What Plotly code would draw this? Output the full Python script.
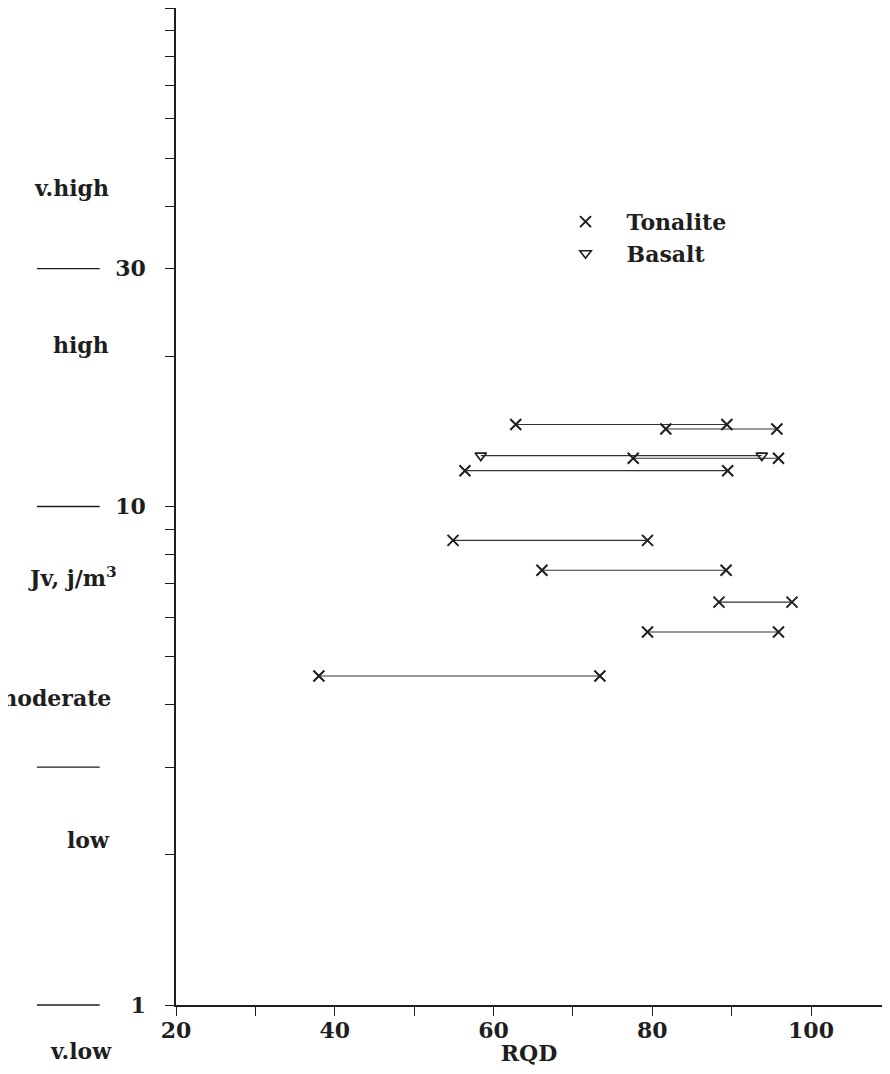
import math
import plotly.graph_objects as go

# ---- data ----
tonalite_rqd_min = [62.8, 81.7, 77.6, 56.4, 54.9, 66.1, 88.4, 79.4, 38.0]
tonalite_rqd_max = [89.4, 95.7, 95.9, 89.5, 79.4, 89.3, 97.6, 95.9, 73.4]
tonalite_jv = [14.6, 14.3, 12.5, 11.8, 8.55, 7.45, 6.43, 5.60, 4.57]

basalt_rqd_min = [58.4]
basalt_rqd_max = [93.8]
basalt_jv = [12.65]

class_bounds = [30, 10, 3, 1]
ytick_vals = [1, 2, 3, 4, 5, 6, 7, 8, 9, 10, 20, 30, 40, 50, 60, 70, 80, 90, 100]
ytick_labels = {1: "1", 10: "10", 30: "30"}
xtick_vals = [20, 30, 40, 50, 60, 70, 80, 90, 100]
xtick_labels = {20: "20", 40: "40", 60: "60", 80: "80", 100: "100"}

FONT = "DejaVu Serif"
INK = "#1e1e1e"
FS = 22

def seg(xmin, xmax, ys):
    xs, yy = [], []
    for a, b, y in zip(xmin, xmax, ys):
        xs += [a, b, None]
        yy += [y, y, None]
    return xs, yy

fig = go.Figure()

tx, ty = seg(tonalite_rqd_min, tonalite_rqd_max, tonalite_jv)
bx, by = seg(basalt_rqd_min, basalt_rqd_max, basalt_jv)

fig.add_trace(go.Scatter(x=tx, y=ty, mode="lines", line=dict(color="#333", width=1.1),
                         showlegend=False, hoverinfo="skip"))
fig.add_trace(go.Scatter(x=bx, y=by, mode="lines", line=dict(color="#333", width=1.1),
                         showlegend=False, hoverinfo="skip"))

fig.add_trace(go.Scatter(
    x=tonalite_rqd_min + tonalite_rqd_max, y=tonalite_jv + tonalite_jv,
    mode="markers", name="Tonalite",
    marker=dict(symbol="x-thin-open", size=11, color=INK, line=dict(color=INK, width=2))))
fig.add_trace(go.Scatter(
    x=basalt_rqd_min + basalt_rqd_max, y=basalt_jv + basalt_jv,
    mode="markers", name="Basalt",
    marker=dict(symbol="triangle-down-open", size=10, color=INK, line=dict(color=INK, width=1.6))))

ymin_log, ymax_log = 0, 2

def ypaper(logv):
    return (logv - ymin_log) / (ymax_log - ymin_log)

# class boundary dashes at left
for b in class_bounds:
    yp = ypaper(math.log10(b))
    fig.add_shape(type="line", xref="paper", yref="paper",
                  x0=-0.197, x1=-0.108, y0=yp, y1=yp,
                  line=dict(color=INK, width=1.3))

left_labels = [
    ("v.high", -0.1487, 0.8195, "center"),
    ("high", -0.1346, 0.662, "center"),
    ("Jv, j/m<sup>3</sup>", -0.147, 0.4293, "center"),
    ("moderate", -0.0892, 0.3079, "right"),
    ("low", -0.0907, 0.1655, "right"),
    ("v.low", -0.0878, -0.046, "right"),
]
for txt, xp, yp, anc in left_labels:
    fig.add_annotation(text=txt, xref="paper", yref="paper", x=xp, y=yp,
                       xanchor=anc, yanchor="middle", showarrow=False,
                       font=dict(family=FONT, size=FS, color=INK, weight="bold"))

fig.update_layout(
    width=874, height=1058,
    margin=dict(l=168, r=0, t=0, b=61, autoexpand=False),
    paper_bgcolor="white", plot_bgcolor="white",
    font=dict(family=FONT, size=FS, color=INK, weight="bold"),
    legend=dict(x=0.522, y=0.8066, xanchor="left", yanchor="top",
                bgcolor="rgba(0,0,0,0)", font=dict(family=FONT, size=FS, color=INK, weight="bold"),
                itemwidth=72, tracegroupgap=0),
    xaxis=dict(range=[20, 108.94], showgrid=False, zeroline=False, showline=True, automargin=False,
               linecolor=INK, linewidth=1.5, ticks="outside", ticklen=9,
               tickcolor=INK, tickwidth=1.3, ticklabelstandoff=-4,
               tickvals=xtick_vals, ticktext=[xtick_labels.get(v, "") for v in xtick_vals],
               title=dict(text="RQD", standoff=10, font=dict(family=FONT, size=FS, color=INK, weight="bold"))),
    yaxis=dict(type="log", range=[ymin_log, ymax_log], showgrid=False, zeroline=False,
               showline=True, automargin=False, linecolor=INK, linewidth=1.5, ticks="outside", ticklen=9,
               tickcolor=INK, tickwidth=1.3,
               tickvals=ytick_vals, ticktext=[ytick_labels.get(v, "") for v in ytick_vals],
               ticklabelstandoff=15),
)

fig.write_html("out.html")
